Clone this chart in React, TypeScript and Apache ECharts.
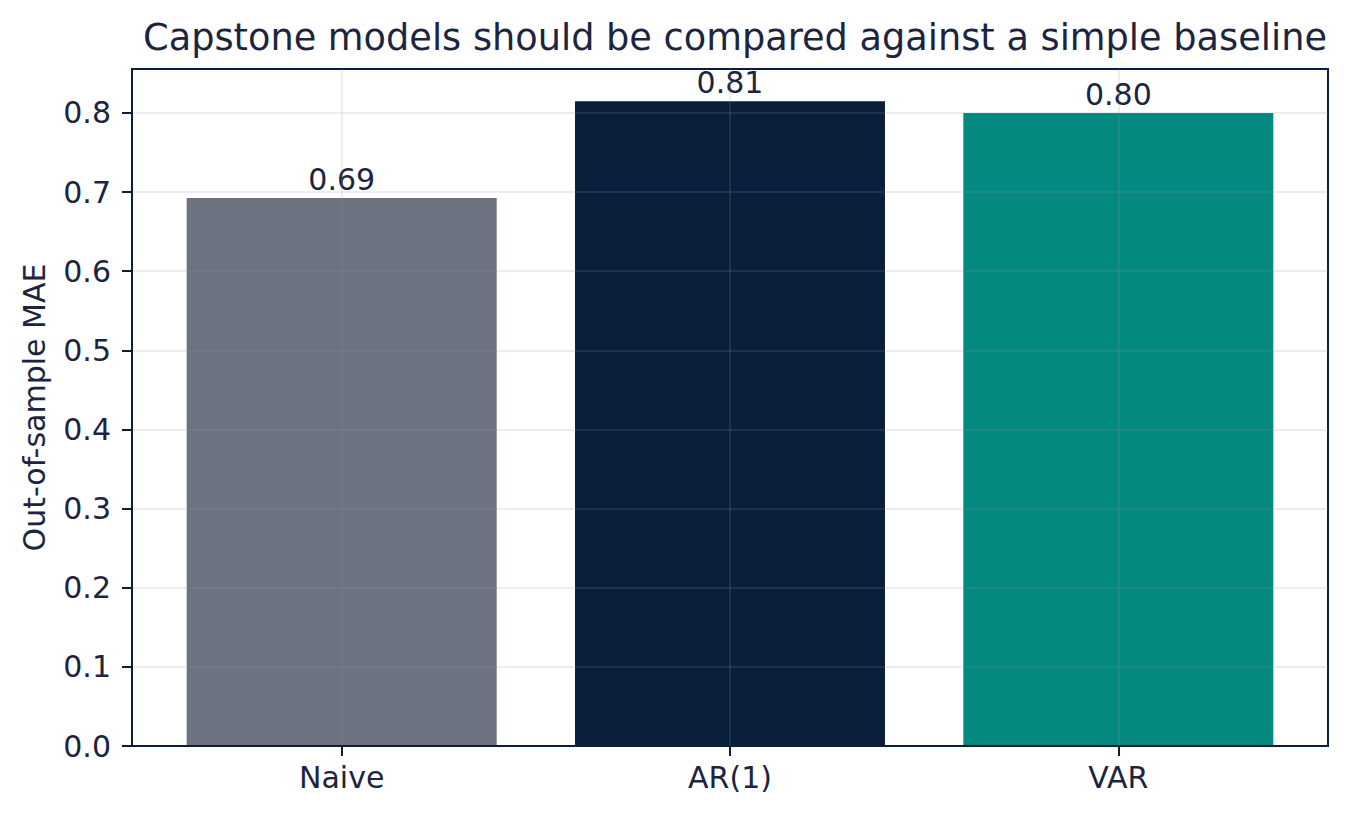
import { useEffect, useRef } from "react";
import * as echarts from "echarts";

const MODELS = ["Naive", "AR(1)", "VAR"];
const MAE = [0.6924, 0.8148, 0.7998];
const BAR_COLORS = ["#6b7280", "#0a1f3c", "#03897f"];
const Y_TICKS = [0, 0.1, 0.2, 0.3, 0.4, 0.5, 0.6, 0.7, 0.8];
const X_TICKS = [0, 1, 2];

const INK = "#1b2540";
const FRAME = "#0b1f3d";
const GRID_LINE = "rgba(150,150,150,0.22)";
const FONT = "DejaVu Sans";

export default function App() {
  const chartRef = useRef<HTMLDivElement>(null);

  useEffect(() => {
    document.body.style.margin = "0";
    if (!chartRef.current) return;
    const chart = echarts.init(chartRef.current, null, { renderer: "svg" });

    // matplotlib-style 5% headroom above the tallest bar
    const yMax = Math.max(...MAE) * 1.05;

    chart.setOption({
      animation: false,
      textStyle: { fontFamily: FONT, color: INK },
      title: {
        text: "Capstone models should be compared against a simple baseline",
        left: 730,
        top: 14,
        textAlign: "center",
        textStyle: { fontFamily: FONT, fontSize: 36.7, fontWeight: "normal", color: INK },
      },
      grid: {
        left: 132,
        top: 69,
        width: 1196,
        height: 677,
        show: true,
        borderColor: FRAME,
        borderWidth: 2,
        backgroundColor: "transparent",
      },
      xAxis: {
        type: "value",
        min: -0.54,
        max: 2.54,
        z: 3,
        axisLine: { show: true, onZero: false, lineStyle: { color: FRAME, width: 2 } },
        axisTick: {
          show: true,
          customValues: X_TICKS,
          length: 10,
          lineStyle: { color: FRAME, width: 2 },
        },
        axisLabel: {
          customValues: X_TICKS,
          formatter: (v: number) => MODELS[Math.round(v)] ?? "",
          fontFamily: FONT,
          fontSize: 30,
          color: INK,
          margin: 16,
        },
        splitLine: { show: true, lineStyle: { color: GRID_LINE, width: 1.5 } },
      },
      yAxis: {
        type: "value",
        min: 0,
        max: yMax,
        z: 3,
        name: "Out-of-sample MAE",
        nameLocation: "middle",
        nameRotate: 90,
        nameGap: 83,
        nameTextStyle: { fontFamily: FONT, fontSize: 30, color: INK },
        axisLine: { show: true, onZero: false, lineStyle: { color: FRAME, width: 2 } },
        axisTick: {
          show: true,
          customValues: Y_TICKS,
          length: 10,
          lineStyle: { color: FRAME, width: 2 },
        },
        axisLabel: {
          customValues: Y_TICKS,
          formatter: (v: number) => v.toFixed(1),
          fontFamily: FONT,
          fontSize: 30,
          color: INK,
          margin: 21,
        },
        splitLine: { show: true, lineStyle: { color: GRID_LINE, width: 1.5 } },
      },
      series: [
        {
          type: "bar",
          barWidth: 310,
          data: MAE.map((v, i) => ({
            value: [i, v],
            itemStyle: { color: BAR_COLORS[i] },
          })),
          label: {
            show: true,
            position: "top",
            distance: 4,
            formatter: (p: any) => p.value[1].toFixed(2),
            fontFamily: FONT,
            fontSize: 30,
            color: INK,
          },
        },
      ],
    });

    return () => chart.dispose();
  }, []);

  return <div ref={chartRef} style={{ width: 1348, height: 819 }} />;
}
